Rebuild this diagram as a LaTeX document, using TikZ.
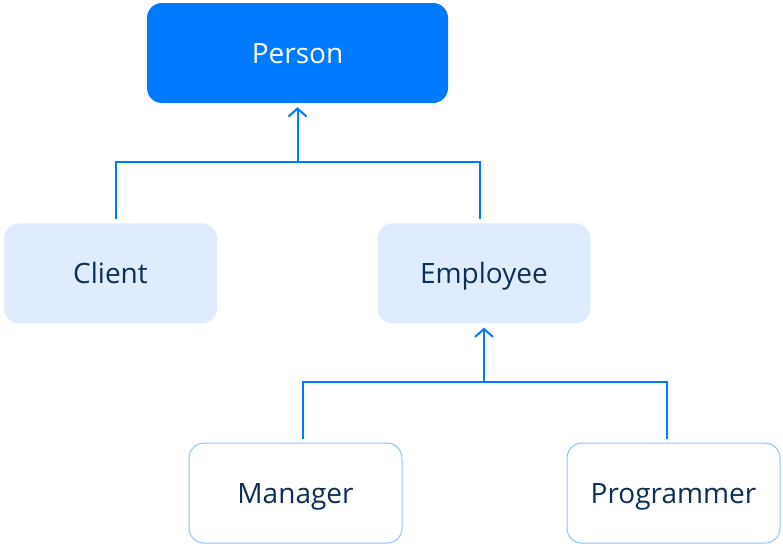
\documentclass[tikz,border=0pt]{standalone}
\usepackage{fontspec}
\setmainfont{Open Sans}
\usepackage{tikz}
\usetikzlibrary{arrows.meta,positioning}

\definecolor{mainblue}{HTML}{007AFF}
\definecolor{paleblue}{HTML}{DFECFD}
\definecolor{edgeblue}{HTML}{8DC4FF}
\definecolor{navytext}{HTML}{0C2F57}

\begin{document}
\begin{tikzpicture}[
  x=1pt, y=1pt,
  base/.style={rectangle, rounded corners=15pt, minimum width=213pt,
               minimum height=100pt, align=center, inner sep=0pt,
               text height=20pt, text depth=0pt,
               font=\fontsize{28}{32}\selectfont, text=navytext},
  rootbox/.style={base, fill=mainblue, minimum width=301pt, text=white},
  midbox/.style={base, fill=paleblue},
  leafbox/.style={base, draw=edgeblue, line width=1pt, fill=white},
  link/.style={draw=mainblue, line width=2pt},
  arrow/.style={link, -{Straight Barb[length=8pt, width=18pt]}},
  node distance=120pt
]
  \useasboundingbox (0,0) rectangle (783,-546);

  \node[rootbox] at (297.5,-53) (person) {Person};
  \node[midbox, below=of person, xshift=-187pt] (client) {Client};
  \node[midbox, below=of person, xshift=186.5pt] (employee) {Employee};
  \node[leafbox, below=119pt of employee, xshift=-188.5pt] (manager) {Manager};
  \node[leafbox, below=119pt of employee, xshift=189.5pt] (programmer) {Programmer};

  \coordinate[below=59pt of person] (bus1);
  \coordinate[below=58pt of employee] (bus2);

  \draw[link] ([xshift=5.5pt, yshift=4pt]client.north) |- (bus1)
              -| ([xshift=-4pt, yshift=4pt]employee.north);
  \draw[arrow] (bus1) -- ([yshift=-4pt]person.south);

  \draw[link] ([xshift=7pt, yshift=4pt]manager.north) |- (bus2)
              -| ([xshift=-7pt, yshift=4pt]programmer.north);
  \draw[arrow] (bus2) -- ([yshift=-4pt]employee.south);
\end{tikzpicture}
\end{document}
